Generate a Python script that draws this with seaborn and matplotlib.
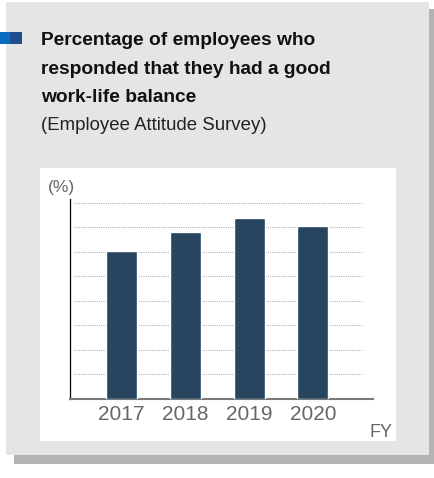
import matplotlib
matplotlib.use("Agg")
import matplotlib.pyplot as plt
from matplotlib.patches import Rectangle
from matplotlib import font_manager
import seaborn as sns
import pandas as pd

years = ["2017", "2018", "2019", "2020"]
values = [60.5, 68.2, 73.9, 70.6]
grid_levels = [10, 20, 30, 40, 50, 60, 70, 80]
title_lines = ["Percentage of employees who",
               "responded that they had a good",
               "work-life balance"]
subtitle = "(Employee Attitude Survey)"
unit_label = "(%)"
x_unit = "FY"

sns.set_theme(style="white")
names = {f.name for f in font_manager.fontManager.ttflist}
FONT = "Liberation Sans Narrow" if "Liberation Sans Narrow" in names else "Liberation Sans"
plt.rcParams["font.family"] = [FONT, "DejaVu Sans"]

W, H = 435, 478
fig = plt.figure(figsize=(W / 100, H / 100), dpi=100)
fig.patch.set_facecolor("white")

def fx(x):
    return x / W

def fy(y):
    return 1 - y / H

def rect(x0, y0, x1, y1, color, z):
    fig.patches.append(Rectangle((fx(x0), fy(y1)), fx(x1) - fx(x0), fy(y0) - fy(y1),
                                 transform=fig.transFigure, facecolor=color,
                                 edgecolor="none", zorder=z))

# shadow, gray panel, white panel, blue marker
rect(14, 9.3, 435, 464, "#b3b3b3", 0)
rect(6, 2, 429.3, 455, "#e5e5e5", 1)
rect(40, 168, 396, 440.5, "#ffffff", 2)
rect(0, 31.7, 10, 44, "#0a6cc0", 3)
rect(10, 31.7, 22, 44, "#1e4f8c", 3)

# titles
baselines = [45, 73.5, 102]
for line, b in zip(title_lines, baselines):
    fig.text(fx(41), fy(b), line, fontsize=13.8, fontweight="bold", color="#111111",
             va="baseline", ha="left", zorder=5)
fig.text(fx(41), fy(130), subtitle, fontsize=13.4, color="#222222",
         va="baseline", ha="left", zorder=5)

# axes
left, right, top, bottom = 70.3, 373, 199.3, 399
ax = fig.add_axes([fx(left), fy(bottom), fx(right) - fx(left), fy(top) - fy(bottom)])
ax.set_zorder(4)
ax.patch.set_alpha(0)

df = pd.DataFrame({"year": years, "value": values})
sns.barplot(data=df, x="year", y="value", color="#27455f", width=0.486,
            saturation=1, ax=ax, zorder=3)

for g in grid_levels:
    ax.axhline(g, xmin=0.012, xmax=0.964, color="#b5b5b5", lw=0.8,
               linestyle=(0, (1, 1)), zorder=1)

ax.set_xlim(-0.80, 3.94)
ax.set_ylim(0, 81.5)
ax.set_xlabel("")
ax.set_ylabel("")
ax.set_yticks([])
ax.tick_params(axis="x", length=0, pad=4, labelsize=15, labelcolor="#666666")
for s in ["top", "right"]:
    ax.spines[s].set_visible(False)
ax.spines["left"].set_color("#000000")
ax.spines["left"].set_linewidth(0.9)
ax.spines["bottom"].set_color("#7a7a7a")
ax.spines["bottom"].set_linewidth(1.5)

fig.text(fx(48), fy(192), unit_label, fontsize=12.5, color="#666666",
         va="baseline", ha="left", zorder=5)
fig.text(fx(370), fy(437), x_unit, fontsize=13, color="#666666",
         va="baseline", ha="left", zorder=5)

fig.savefig("out.png", dpi=100)
